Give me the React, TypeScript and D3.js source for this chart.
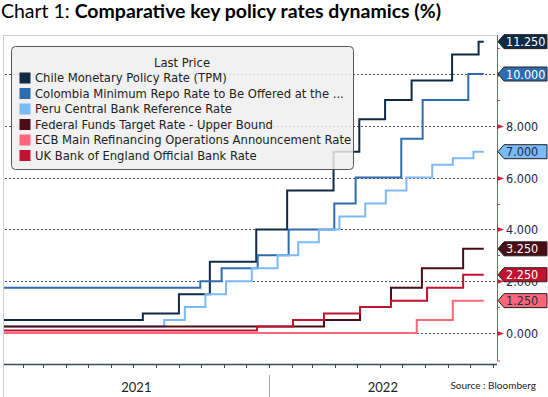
import * as d3 from "d3";

// change points (date, rate) for each series
const chileDates = ["2021-01-01", "2021-07-14", "2021-09-01", "2021-10-13", "2021-12-15", "2022-01-26", "2022-03-30", "2022-05-04", "2022-06-08", "2022-07-14", "2022-09-07", "2022-10-13"];
const chileRates = [0.5, 0.75, 1.5, 2.75, 4.0, 5.5, 7.0, 8.25, 9.0, 9.75, 10.75, 11.25];

const colombiaDates = ["2021-01-01", "2021-09-30", "2021-10-29", "2021-12-17", "2022-01-28", "2022-03-31", "2022-04-29", "2022-06-30", "2022-07-29", "2022-09-29"];
const colombiaRates = [1.75, 2.0, 2.5, 3.0, 4.0, 5.0, 6.0, 7.5, 9.0, 10.0];

const peruDates = ["2021-01-01", "2021-08-12", "2021-09-09", "2021-10-07", "2021-11-04", "2021-12-09", "2022-01-13", "2022-02-10", "2022-03-10", "2022-04-07", "2022-05-12", "2022-06-09", "2022-07-07", "2022-08-11", "2022-09-08", "2022-10-06"];
const peruRates = [0.25, 0.5, 1.0, 1.5, 2.0, 2.5, 3.0, 3.5, 4.0, 4.5, 5.0, 5.5, 6.0, 6.5, 6.75, 7.0];

const fedDates = ["2021-01-01", "2022-03-17", "2022-05-05", "2022-06-16", "2022-07-28", "2022-09-22"];
const fedRates = [0.25, 0.5, 1.0, 1.75, 2.5, 3.25];

const ecbDates = ["2021-01-01", "2022-07-21", "2022-09-08"];
const ecbRates = [0, 0.5, 1.25];

const ukDates = ["2021-01-01", "2021-12-16", "2022-02-03", "2022-03-17", "2022-05-05", "2022-06-16", "2022-08-04", "2022-09-22"];
const ukRates = [0.1, 0.25, 0.5, 0.75, 1.0, 1.25, 1.75, 2.25];

const seriesNames = [
  "Chile Monetary Policy Rate (TPM)",
  "Colombia Minimum Repo Rate to Be Offered at the ...",
  "Peru Central Bank Reference Rate",
  "Federal Funds Target Rate - Upper Bound",
  "ECB Main Refinancing Operations Announcement Rate",
  "UK Bank of England Official Bank Rate",
];
const seriesColors = ["#0f2a47", "#2e6cad", "#7bbaf6", "#4a0c16", "#ff6778", "#c0132f"];
const tagText = ["#ffffff", "#ffffff", "#1b2a48", "#ffffff", "#1b2a48", "#ffffff"];

const majorTicks = [0, 2, 4, 6, 8, 10];
const minorTicks = [1, 3, 5, 7, 9, 11];
const yearLabels = ["2021", "2022"];

const END_DATE = "2022-10-20";

const parse = d3.utcParse("%Y-%m-%d");

const W = 548;
const H = 397;
const axisX = 497;
const plotLeft = 4;
const plotTop = 35;
const plotBottom = 364;

const x = d3
  .scaleUtc()
  .domain([parse("2021-01-01")!, parse("2022-11-07")!])
  .range([0, axisX]);
const y = d3.scaleLinear().domain([0, 10]).range([333, 74]);

const legendFont = "'DejaVu Sans', sans-serif";
const axisFont = "'DejaVu Sans Condensed', 'DejaVu Sans', sans-serif";

function buildSeries(dates: string[], rates: number[]) {
  const pts = dates.map((d, i) => ({ date: parse(d)!, v: rates[i] }));
  pts.push({ date: parse(END_DATE)!, v: rates[rates.length - 1] });
  return pts;
}

const allSeries = [
  buildSeries(chileDates, chileRates),
  buildSeries(colombiaDates, colombiaRates),
  buildSeries(peruDates, peruRates),
  buildSeries(fedDates, fedRates),
  buildSeries(ecbDates, ecbRates),
  buildSeries(ukDates, ukRates),
];

const line = d3
  .line<{ date: Date; v: number }>()
  .x((d) => x(d.date))
  .y((d) => y(d.v))
  .curve(d3.curveStepAfter);

export default function App() {
  const months = d3.utcMonth.range(parse("2021-02-01")!, parse("2022-11-02")!);
  const yearSplit = x(parse("2022-01-01")!);
  const lastValues = allSeries.map((s) => s[s.length - 1].v);

  return (
    <svg width={W} height={H} style={{ position: "absolute", left: 0, top: 0, background: "#fff" }}>
      {/* title */}
      <text x={1} y={18} textLength={440} lengthAdjust="spacingAndGlyphs" style={{ fontFamily: "Lato, 'Open Sans', sans-serif", fontSize: 19.5, fill: "#000" }}>
        Chart 1: <tspan fontWeight="bold">Comparative key policy rates dynamics (%)</tspan>
      </text>

      {/* panel frame */}
      <line x1={3.5} x2={3.5} y1={plotTop} y2={H} stroke="#cfcfcf" />
      <line x1={3.5} x2={axisX} y1={plotTop + 0.5} y2={plotTop + 0.5} stroke="#cfcfcf" />

      {/* grid */}
      {majorTicks.map((t) => (
        <line key={t} x1={plotLeft + 1} x2={axisX} y1={Math.round(y(t)) + 0.5} y2={Math.round(y(t)) + 0.5} stroke="#555" strokeDasharray="2,2" strokeWidth={1} />
      ))}

      {/* lines */}
      <defs>
        <clipPath id="plotclip">
          <rect x={plotLeft} y={plotTop} width={axisX - plotLeft} height={plotBottom - plotTop} />
        </clipPath>
      </defs>
      <g clipPath="url(#plotclip)">
        {allSeries.map((s, i) => (
          <path key={i} d={line(s) ?? ""} fill="none" stroke={seriesColors[i]} strokeWidth={2} />
        ))}
      </g>

      {/* legend */}
      <rect x={11.5} y={46.5} width={342} height={123} rx={4} fill="#eeeeee" fillOpacity={0.85} stroke="#555" />
      <text x={182} y={67} textAnchor="middle" style={{ fontFamily: legendFont, fontSize: 11.6, fill: "#222" }}>
        Last Price
      </text>
      {seriesNames.map((n, i) => (
        <g key={n} transform={`translate(0,${78 + i * 15.5})`}>
          <rect x={19.5} y={-5.5} width={11} height={11} fill={seriesColors[i]} />
          <text x={35} y={0} dy="0.36em" style={{ fontFamily: legendFont, fontSize: 11.6, fill: "#222" }}>
            {n}
          </text>
        </g>
      ))}

      {/* x axis */}
      <line x1={plotLeft} x2={axisX} y1={plotBottom + 0.5} y2={plotBottom + 0.5} stroke="#34495e" strokeWidth={1.5} />
      {months.map((m) => (
        <line key={m.toISOString()} x1={Math.round(x(m)) + 0.5} x2={Math.round(x(m)) + 0.5} y1={plotBottom} y2={plotBottom + 4} stroke="#34495e" />
      ))}
      <line x1={Math.round(yearSplit) + 0.5} x2={Math.round(yearSplit) + 0.5} y1={375} y2={H} stroke="#aaa" />
      <text x={(plotLeft + yearSplit) / 2} y={392} textAnchor="middle" style={{ fontFamily: "Lato, sans-serif", fontSize: 13, fill: "#222" }}>
        {yearLabels[0]}
      </text>
      <text x={(yearSplit + axisX) / 2} y={392} textAnchor="middle" style={{ fontFamily: "Lato, sans-serif", fontSize: 13, fill: "#222" }}>
        {yearLabels[1]}
      </text>
      <text x={536} y={389} textAnchor="end" style={{ fontFamily: "Lato, sans-serif", fontSize: 10, fill: "#222" }}>
        Source : Bloomberg
      </text>

      {/* y axis */}
      <line x1={axisX + 0.5} x2={axisX + 0.5} y1={plotTop} y2={plotBottom - 3} stroke="#d0405a" strokeWidth={1} />
      <line x1={axisX + 0.5} x2={axisX + 3} y1={plotBottom - 3} y2={plotBottom - 3} stroke="#d0405a" />
      {minorTicks.map((t) => (
        <line key={t} x1={axisX} x2={axisX + 3} y1={Math.round(y(t)) + 0.5} y2={Math.round(y(t)) + 0.5} stroke="#d0405a" />
      ))}
      {majorTicks.map((t) => {
        const yy = Math.round(y(t)) + 0.5;
        return (
          <g key={t}>
            <path d={`M${axisX},${yy - 2.5}L${axisX + 7},${yy}L${axisX},${yy + 2.5}Z`} fill="#d0203f" />
            <text x={axisX + 9} y={yy} dy="0.36em" style={{ fontFamily: axisFont, fontSize: 12.5, fill: "#1b2a48" }}>
              {d3.format(".3f")(t)}
            </text>
          </g>
        );
      })}

      {/* last value tags */}
      {lastValues.map((v, i) => {
        const yy = y(v);
        return (
          <g key={i}>
            <path
              d={`M${axisX + 1},${yy}L${axisX + 7},${yy - 7}L${W - 1},${yy - 7}L${W - 1},${yy + 7}L${axisX + 7},${yy + 7}Z`}
              fill={seriesColors[i]}
              stroke="#222"
              strokeWidth={1}
            />
            <text x={axisX + 9} y={yy} dy="0.36em" style={{ fontFamily: axisFont, fontSize: 12.5, fill: tagText[i] }}>
              {d3.format(".3f")(v)}
            </text>
          </g>
        );
      })}
    </svg>
  );
}
